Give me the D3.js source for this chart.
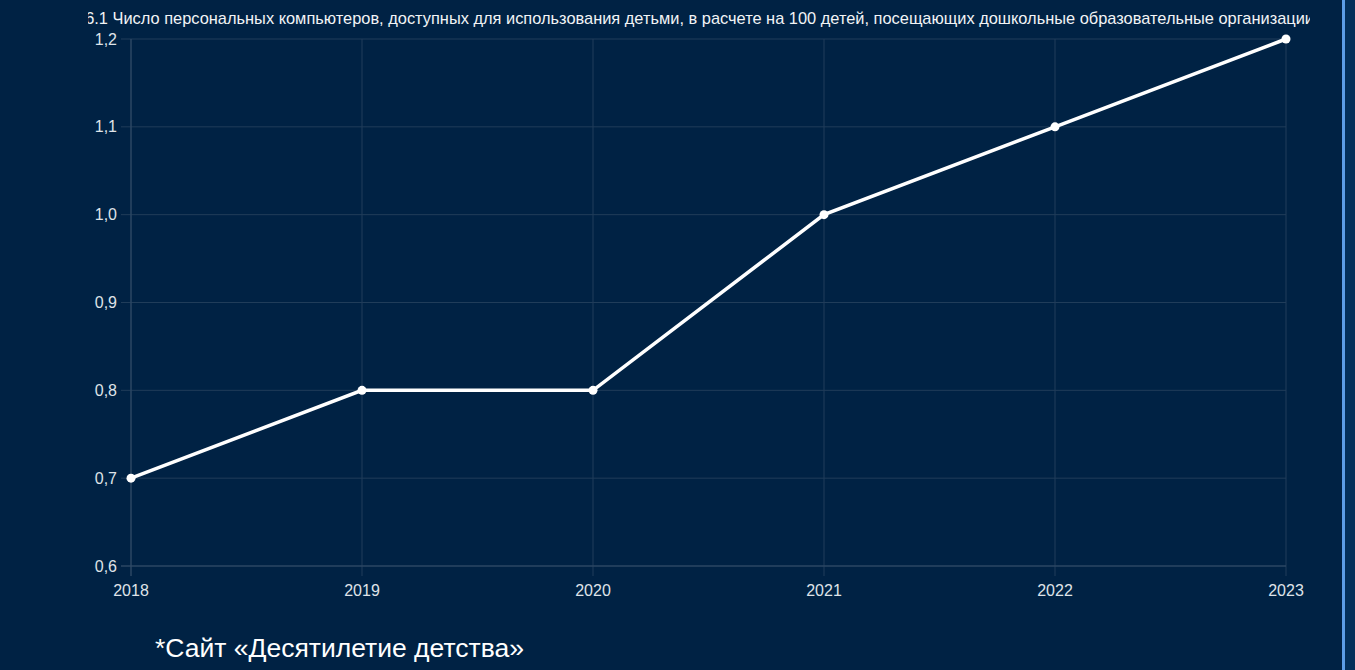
<!DOCTYPE html>
<html><head><meta charset="utf-8">
<script src="https://cdn.jsdelivr.net/npm/d3@7"></script>
<style>
html,body{margin:0;padding:0;background:#002244;overflow:hidden;}
svg{display:block;font-family:"Liberation Sans",Arial,sans-serif;}
</style></head>
<body>
<svg id="c" width="1355" height="670"></svg>
<script>
const titleText = "6.1 Число персональных компьютеров, доступных для использования детьми, в расчете на 100 детей, посещающих дошкольные образовательные организации";
const years = ["2018","2019","2020","2021","2022","2023"];
const values = [0.7, 0.8, 0.8, 1.0, 1.1, 1.2];
const yTicks = [0.6, 0.7, 0.8, 0.9, 1.0, 1.1, 1.2];
const sourceText = "*Сайт «Десятилетие детства»";

(function(){
const svg = d3.select("#c");
svg.append("rect").attr("x",0).attr("y",0).attr("width",1355).attr("height",670).attr("fill","#002244");
svg.append("rect").attr("x",1345).attr("y",0).attr("width",10).attr("height",670).attr("fill","#04305a");
svg.append("rect").attr("x",1342).attr("y",0).attr("width",3).attr("height",670).attr("fill","#5d9ee6");

const pL=131, pR=1286, pT=39, pB=566;
const x = d3.scalePoint().domain(years).range([pL,pR]);
const y = d3.scaleLinear().domain([0.6,1.2]).range([pB,pT]);

const defs = svg.append("defs");
defs.append("clipPath").attr("id","tclip").append("rect").attr("x",88).attr("y",0).attr("width",1222).attr("height",30);

const fmt = v => d3.format(".1f")(v).replace(".", ",");
const gridColor = "#203d5a";

svg.append("g").selectAll("line").data(yTicks).join("line")
  .attr("x1",pL-10).attr("x2",pR).attr("y1",d=>y(d)).attr("y2",d=>y(d))
  .attr("stroke",gridColor).attr("stroke-width",1);
svg.append("g").selectAll("line").data(years).join("line")
  .attr("x1",d=>x(d)).attr("x2",d=>x(d)).attr("y1",pT).attr("y2",pB+10)
  .attr("stroke",gridColor).attr("stroke-width",1);
svg.append("line").attr("x1",pL).attr("x2",pL).attr("y1",pT).attr("y2",pB+10).attr("stroke","#304c68");
svg.append("line").attr("x1",pL-10).attr("x2",pR).attr("y1",pB).attr("y2",pB).attr("stroke","#304c68");

svg.append("g").selectAll("text").data(yTicks).join("text")
  .attr("x",117).attr("y",d=>y(d)).attr("dy","0.35em").attr("text-anchor","end")
  .attr("fill","#dfe3e8").attr("font-size",16).text(fmt);
svg.append("g").selectAll("text").data(years).join("text")
  .attr("x",d=>x(d)).attr("y",590).attr("dy","0.35em").attr("text-anchor","middle")
  .attr("fill","#dfe3e8").attr("font-size",16).text(d=>d);

svg.append("g").attr("clip-path","url(#tclip)").append("text")
  .attr("x",1314).attr("y",24).attr("text-anchor","end")
  .attr("fill","#f2f4f6").attr("font-size",16.4).text(titleText);

const data = years.map((yr,i)=>({yr, v:values[i]}));
svg.append("path").datum(data)
  .attr("fill","none").attr("stroke","#ffffff").attr("stroke-width",3.5)
  .attr("d", d3.line().x(d=>x(d.yr)).y(d=>y(d.v)));
svg.append("g").selectAll("circle").data(data).join("circle")
  .attr("cx",d=>x(d.yr)).attr("cy",d=>y(d.v)).attr("r",4.5).attr("fill","#ffffff");

svg.append("text").attr("x",155).attr("y",657).attr("fill","#ffffff")
  .attr("font-size",26.5).text(sourceText);
})();
</script>
</body></html>
